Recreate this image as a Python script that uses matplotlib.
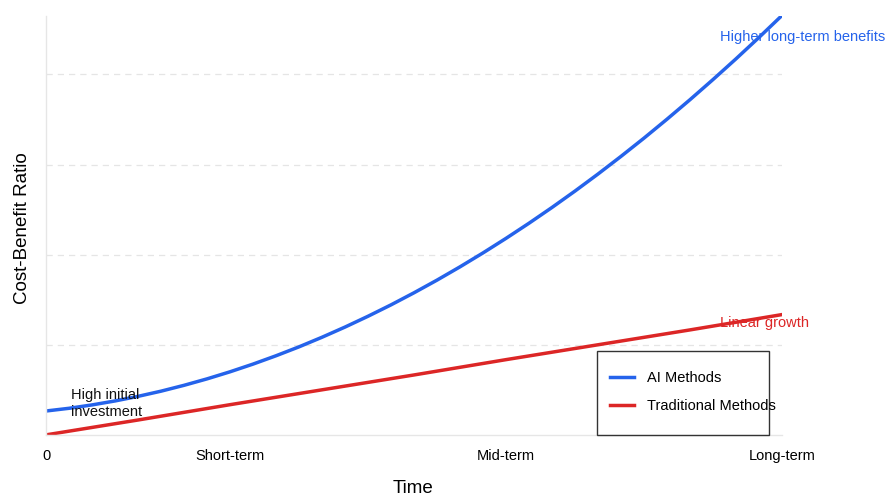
import matplotlib
matplotlib.use("Agg")
import matplotlib.pyplot as plt
from matplotlib.patches import Rectangle

plt.rcParams['font.family'] = ['Liberation Sans', 'DejaVu Sans']

# values (arbitrary ratio units, gridline every 20)
time_x = [0, 0.25, 0.5, 0.75, 1, 1.25, 1.5, 1.75, 2, 2.25, 2.5, 2.75, 3, 3.25,
          3.5, 3.75, 4, 4.25, 4.5, 4.75, 5, 5.25, 5.5, 5.75, 6, 6.25, 6.5,
          6.75, 7, 7.25, 7.5, 7.75, 8]
ai_methods = [5.30, 5.90, 6.65, 7.53, 8.55, 9.70, 11.00, 12.43, 14.00, 15.71,
              17.56, 19.54, 21.67, 23.93, 26.33, 28.86, 31.54, 34.35, 37.30,
              40.39, 43.62, 46.98, 50.48, 54.12, 57.90, 61.82, 65.87, 70.07,
              74.40, 78.87, 83.47, 88.22, 93.10]
trad_x = [0, 1, 2, 3, 4, 5, 6, 7, 8]
traditional = [0, 3.3, 6.7, 10.0, 13.3, 16.7, 20.0, 23.3, 26.7]

tick_pos = [0, 2, 5, 8]
tick_labels = ['0', 'Short-term', 'Mid-term', 'Long-term']

blue = '#2563eb'
red = '#dc2626'

fig = plt.figure(figsize=(8.85, 4.97), dpi=100)
ax = fig.add_axes([0.052, 0.125, 0.8316, 0.843])

ax.plot(time_x, ai_methods, color=blue, lw=2.5, label='AI Methods')
ax.plot(trad_x, traditional, color=red, lw=2.5, label='Traditional Methods')

ax.set_xlim(0, 8)
ax.set_ylim(0, 93)
ax.set_xticks(tick_pos)
ax.set_xticklabels(tick_labels, fontsize=10.5)
ax.set_yticks([20, 40, 60, 80])
ax.set_yticklabels([])
ax.tick_params(axis='both', length=0, pad=10)
ax.grid(axis='y', color='#e5e5e5', linestyle=(0, (5, 4)), lw=0.9)
ax.set_axisbelow(True)

for s in ['top', 'right']:
    ax.spines[s].set_visible(False)
for s in ['left', 'bottom']:
    ax.spines[s].set_color('#e6e6e6')
    ax.spines[s].set_linewidth(1.0)

ax.set_xlabel('Time', fontsize=13.5)
ax.xaxis.set_label_coords(0.4986, -0.108)
ax.set_ylabel('Cost-Benefit Ratio', fontsize=13.5)
ax.yaxis.set_label_coords(-0.0203, 0.494)

# annotations
ax.text(0.27, 7.0, 'High initial\ninvestment', fontsize=10.5, color='#111111',
        ha='left', va='center', linespacing=1.3)
ax.text(7.33, 24.9, 'Linear growth', fontsize=10.5, color=red, ha='left', va='center',
        clip_on=False)
ax.text(7.33, 88.4, 'Higher long-term benefits', fontsize=10.5, color=blue,
        ha='left', va='center', clip_on=False)

# legend: box drawn separately, text spills past it as in the reference
ax.add_patch(Rectangle((0.749, 0.0), 0.233, 0.2005, transform=ax.transAxes,
                       fill=False, edgecolor='#333333', lw=1.0, zorder=5, clip_on=False))
leg = ax.legend(loc='upper left', bbox_to_anchor=(0.766, 0.153), frameon=False,
                fontsize=10.5, borderpad=0, borderaxespad=0, handlelength=1.65,
                handletextpad=0.9, labelspacing=1.0)

fig.savefig('out.png', dpi=100)
